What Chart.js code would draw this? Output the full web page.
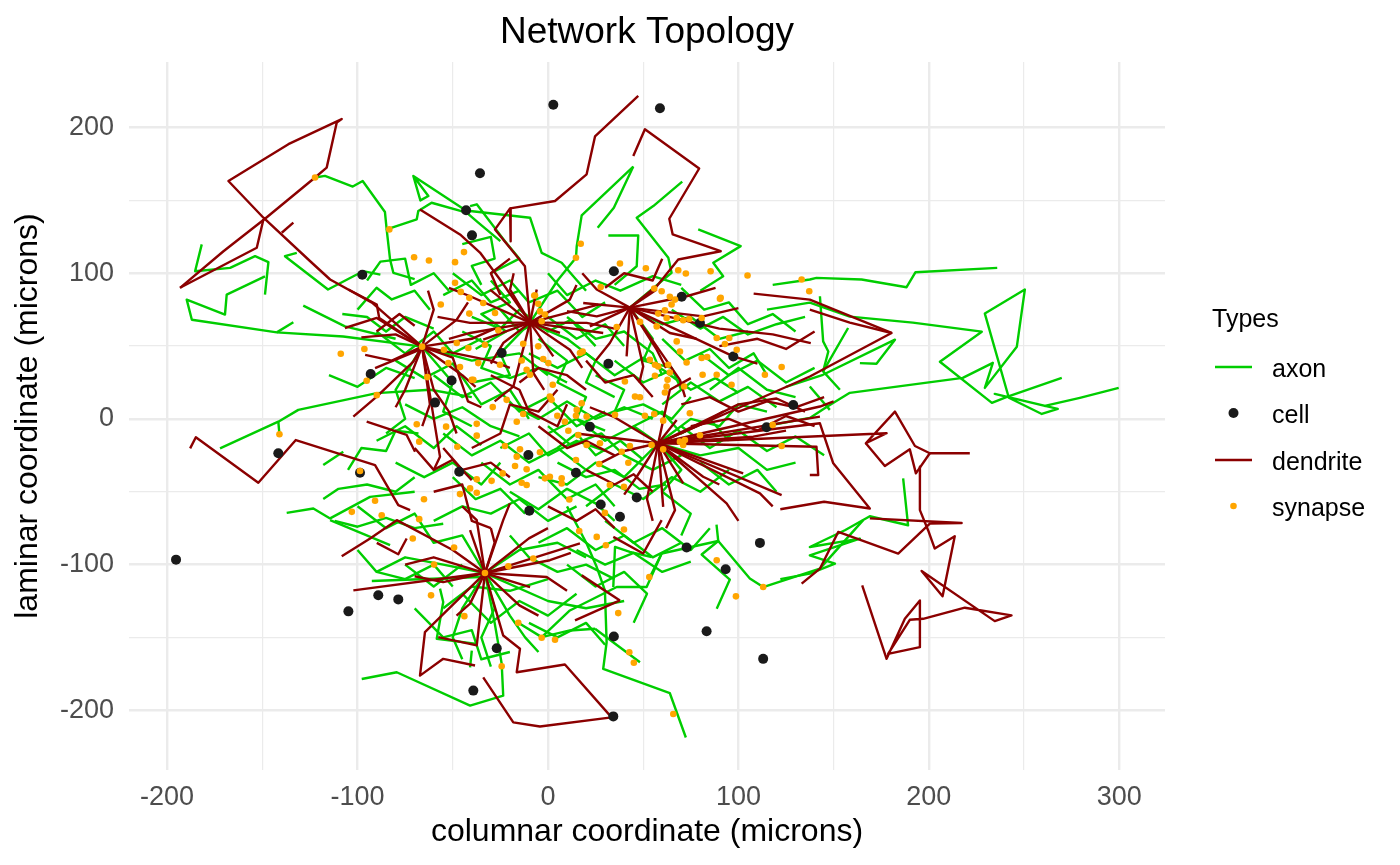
<!DOCTYPE html>
<html>
<head>
<meta charset="utf-8">
<title>Network Topology</title>
<script src="https://cdn.jsdelivr.net/npm/chart.js@4.4.0/dist/chart.umd.min.js"></script>
<style>
  html, body { margin: 0; padding: 0; background: #ffffff; }
  #wrap { width: 1400px; height: 865px; }
</style>
</head>
<body>
<div id="wrap"><canvas id="networkChart" width="1400" height="865"></canvas></div>
<script>
// ---- data (microns) ----
const xTicks = [-200, -150, -100, -50, 0, 50, 100, 150, 200, 250, 300];
const yTicks = [-200, -150, -100, -50, 0, 50, 100, 150, 200];
const typeNames = ["axon", "cell", "dendrite", "synapse"];

const cellX = [2.8, 58.8, -35.7, -43, -39.9, -97.5, 34.6, -93.1, -24.3, 31.7, 70.2, 79.8, 97.3, -141.6, -98.7, -46.6, -50.6, -59.3, -10.3, 14.7, 22, 114.8, 128.8, -195.3, -104.8, -89.1, -78.6, -39.2, -26.9, -9.8, 27.7, 37.8, 46.6, 34.6, 34.3, 72.8, 93.3, 111.3, 83.3, 113];
const cellY = [215.6, 213.3, 168.6, 143.2, 126, 99, 101.4, 30.8, 45.2, 37.9, 83.8, 65.9, 42.9, -23.6, -37, -36.3, 26.4, 11.2, -24.8, -37, -5.3, -5.7, 9.6, -96.6, -132.1, -121.1, -123.9, -186.5, -157.4, -63.1, -58.7, -67.2, -53.9, -149.3, -204.2, -88.3, -103.2, -85.1, -145.7, -164.7];

const synapsesNorthWest = [
  [-122.3, 165.7], [-83.3, 130.1], [-70.3, 111], [-62.5, 108.7], [-48.8, 107.6], [-44.1, 114.5],
  [-48.8, 93.4], [-45.8, 87.2], [-41.3, 83.1], [-56.3, 78.5], [-41.3, 72.3], [-54.6, 47.5],
  [-47.9, 52.1], [-41.8, 48.7], [-52.3, 38.3], [-46.2, 35.6], [-40, 26.8], [-36.6, 38.3],
  [-63.4, 28.7], [-66.1, 49.6], [-108.8, 44.7], [-96.4, 48], [-95.2, 26.2], [-89.9, 16.3],
];
const synapsesSouthWest = [
  [-141, -10.5], [-98.7, -35.8], [-90.8, -56.2], [-87.3, -66.1], [-103, -63.8], [-68.9, -3.7],
  [-67.6, -15.6], [-53.5, -5.3], [-47.6, -19.1], [-65.1, -55.1], [-67.6, -68.8], [-46.2, -51.6],
  [-40.9, -47.7], [-37.4, -41.5], [-37.4, -3.4], [-37.4, -11.5], [-71, -82.1], [-49.3, -88.3],
  [-59.8, -100], [-61.4, -121.1], [-43.9, -135.4], [-33.1, -105.8],
];
const synapsesSouth = [
  [-20.8, -101.2], [-7.7, -95.9], [-15.6, -139.9], [-3.3, -150.2], [3.7, -151.6], [-24.3, -169.8],
  [16.4, -76.9], [25.6, -81], [30.4, -86.7], [39.9, -75.9], [53.2, -108.5], [36.9, -133.3],
  [42.7, -160.2], [45.1, -167.4], [88.6, -97], [98.7, -121.8], [113, -115.4], [65.8, -202.6],
];
const synapsesCentre = [
  [-6.8, 84.7], [-5.1, 79.1], [-34, 79.6], [-27.8, 72.7], [-4.2, 73.8], [-1.6, 71.6], [-3.3, 67],
  [-26.1, 60.8], [-13, 51.6], [-5.1, 49.8], [-33.1, 50.9], [-25.2, 37.2], [-13.8, 40.1], [-2.5, 41.1],
  [0.2, 38.3], [-11.2, 33.7], [-9.4, 30.3], [-39.2, 26.8], [2.5, 23.4], [1, 15.3], [1.9, 13.1],
  [-21.7, 13.1], [-29, 8.1], [-13, 3.4], [-16.4, -1.9], [-22.6, -18.6], [-14.7, -20.9], [-16.4, -25.9],
  [-17.3, -32.3], [-11.2, -34.6], [-23.8, -37.4], [-29.6, -42.5], [-13.8, -43.8], [-11.2, -45.4],
  [-37.4, -50.7], [-4.2, -22.9], [4.9, 2.1], [8.9, -1.9], [10.7, -8.1], [15.1, 6.2], [15.9, -11],
  [20.3, 1.6], [17.7, 10.8], [14.7, 2.1], [20.3, -17.9], [27.3, -16.7], [35.2, 2.8], [43, -18.6],
  [38.7, -22.5], [42.2, -30.1], [14.7, -28.2], [26.9, -31], [32.5, -45.4], [39.9, -46.6], [11.2, -55.3],
  [-1.6, -40.8], [1, -39.7], [7.2, -40.8], [7.2, -44.3], [29.9, -64.5], [-7.2, 84.7],
];
const synapsesEast = [
  [16.8, 45.2], [18.2, 46.3], [36.1, 63.1], [48.3, 66.6], [57.1, 63.5], [53.5, 40.6], [56.2, 37.2],
  [57.9, 36], [63.1, 37.2], [64, 31.9], [62.8, 26.8], [62.3, 22.2], [61.4, 18.1], [56.2, 29.6],
  [45.7, 15.3], [48.3, 14.9], [50.9, 2.1], [55.8, 3.4], [60.5, -1.2], [54.4, -17.9], [60.5, -20.9],
  [69.3, -15.6], [71.9, -14.5], [71, -17.9], [79.8, -11.2], [74.5, 3.9], [71.5, 22.2], [81.2, 30.3],
  [88.6, 30.3], [96.4, 23.4], [113.9, 30.3], [122.7, 35.6], [118, -4.1], [122.7, -18.6], [72.8, 38.7],
  [80.7, 41.8], [83.6, 42.5], [88.6, 55.5], [92.9, 51.4], [95.2, 55.5], [99.1, 47.5], [67.6, 53.2],
  [69.3, 46.3], [57.9, 72.3], [61.4, 74.5], [64.9, 78.5], [66.7, 81.9], [64, 83.8], [59.7, 87.6],
  [62.3, 69.3], [67.6, 69.3], [71, 67.7], [74.2, 68.6], [80.7, 69.3], [90.3, 82.4], [137.2, 87.6],
  [40.4, 25.7], [17.2, 120.2], [14.7, 110.6], [37.8, 106.7], [51.4, 103.4], [68.4, 102.1], [72.4, 99.8],
  [85.4, 101.4], [104.8, 98.4], [133.2, 95.7], [27.7, 90.6], [55.8, 89.5], [90.7, 83.1],
];

// each path is a flat list x0, y0, x1, y1, ...
const dendritesWest = [
  [-66.1, 49.6, -92.4, 79.8, -114.4, 95.7, -124, 107.2, -149.4, 138.1, -167.8, 163.3, -136.3, 188.6, -108.3, 205.8, -110.9, 203.5, -116.2, 172.5, -122.3, 165.7, -148.6, 137.4, -170.4, 115.1, -193.2, 90],
  [-193.2, 90, -152.9, 117.5, -149.4, 137],
  [-139.8, 127.8, -133.7, 134.7],
  [-66.1, 49.6, -88.6, 69.3, -89.9, 78.5, -104.8, 88.8],
  [-66.1, 49.6, -89.9, 69.3, -106.6, 62.4],
  [-66.1, 49.6, -70.7, 39.4, -89.9, 15.3, -102.2, 1.6],
  [-67.2, 47.5, -90.8, 34.9],
  [-95.2, -1.9, -74.2, -11, -69.8, -22.5],
  [-187.9, -20.2, -184.9, -12.6, -152.1, -43.8, -132.4, -14.5, -90.8, -31.7, -78.6, -59.2, -72.4, -62.6],
  [-66.1, 49.6, -56.7, -25.9, -60, -35],
  [-66.1, 49.6, -60, 20, -52, 5, -48, -10],
  [-66.1, 49.6, -45, 30, -38, 22],
  [-66.1, 49.6, -40, 55, -28, 62],
  [-66.1, 49.6, -48, 68, -42, 80],
  [-66.1, 49.6, -60, 75, -63, 88],
  [-66.1, 49.6, -80, 58, -98, 56],
  [-66.1, 49.6, -82, 40, -96, 44],
  [-66.1, 49.6, -75, 20, -80, 8],
  [-66.1, 49.6, -62, 10, -66, -5],
  [-66.1, 49.6, -30, 40, -20, 35],
  [-66.1, 49.6, -50, 42, -42, 12, -35, 8],
  [-90, 60, -78, 72, -70, 64],
  [-70, -20, -60, -35, -50, -28, -40, -42],
];
const dendritesNorth = [
  [-9.4, 66.1, -12.1, 104.8, -27.8, 130.1, -19.9, 144.5, 3.7, 149.6, 20.3, 167.9, 24.7, 193.9, 47.4, 221.8],
  [-19.9, 144.5, -19.6, 122],
  [43, 76.4, 57.1, 91.1, 68.4, 109.4, 90.7, 115.1, 65.5, 126.6, 63.7, 137.4, 79.4, 171.9, 50.9, 198.9, 44.8, 180.5],
  [-67.2, 143.8, -46.2, 126.6, -35.7, 114.2, -25.2, 95.7, -9.4, 66.1],
  [-9.4, 66.1, -40.9, 84.2, -52, 90],
  [-9.4, 66.1, -40.9, 65.9, -58, 70],
  [-9.4, 66.1, -30.4, 88.8],
  [-9.4, 66.1, -19.9, 88.8, -18, 100],
  [-9.4, 66.1, -5.9, 88.8],
  [-9.4, 66.1, 11.5, 81.9, 15, 92],
  [-9.4, 66.1, 26.4, 78.5],
  [-9.4, 66.1, 20.3, 65.9, 35, 62],
  [-9.4, 66.1, 6.3, 59],
  [-9.4, 66.1, 29, 59],
  [-9.4, 66.1, 11.5, 47.5, 18, 35],
  [-9.4, 66.1, 2.8, 42.9],
  [-9.4, 66.1, -7.7, 31.5, -2, 20],
  [-9.4, 66.1, -18.2, 22.2, -28, 12],
  [-9.4, 66.1, -23.5, 52.1, -30, 38],
  [-9.4, 66.1, -34, 54.4],
  [-9.4, 66.1, -40.9, 59, -52, 55],
  [43, 76.4, 25.6, 88.8, 18, 100],
  [43, 76.4, 57.1, 88.8],
  [43, 76.4, 72.8, 84.2, 88, 90],
  [43, 76.4, 81.5, 70.4, 100, 76],
  [43, 76.4, 64, 59, 78, 55],
  [43, 76.4, 57.1, 47.5, 62, 35],
  [43, 76.4, 50, 36, 48, 25],
  [43, 76.4, 41.3, 42.9],
  [43, 76.4, 32.5, 52.1, 25, 40],
  [43, 76.4, 22, 63.5],
  [43, 76.4, 25.6, 70.4, 10, 74],
  [43, 76.4, 18.5, 79.6],
  [43, 76.4, 97.3, 42.9, 110, 38],
  [43, 76.4, 69.3, 26.8, 72, 15],
  [43, 76.4, 90, 62, 118, 58, 138, 52],
  [30, 90, 40, 100, 55, 95, 60, 110],
  [-20, 110, -30, 100, -25, 85],
  [-30, 30, -15, 20, -10, 5, 5, -5, 10, 10],
  [20, 40, 30, 25, 45, 30, 55, 15],
  [90, 50, 110, 55, 125, 48, 140, 60],
  [-15, 25, -5, 35, 10, 30, 20, 20],
];
const dendritesEast = [
  [57.9, -16.7, 137.5, 29.1, 180.4, 59, 137.5, 81.9, 108, 86],
  [137.5, 75, 158.5, 66.1, 180.4, 59],
  [57.9, -16.7, 141, -19.1, 141.9, -38.5, 137.5, -38.5],
  [57.9, -16.7, 177.8, -9.8, 166.9, -16.7, 182.2, 5, 192.7, -18.6, 200.5, -23.6, 221.5, -23.6],
  [166.9, -16.7, 176.9, -32.3, 190, -20.9, 193.2, -37.4, 200.5, -23.6],
  [195.3, -32.8, 195.3, -62.6, 199.6, -76.4, 203.1, -89, 213.6, -80.5, 207.2, -121.8, 196.2, -104.4, 234.6, -138.8, 243.4, -134.9, 218.9, -129.6, 197, -137.2, 190, -137.9, 178.6, -161.3, 195.3, -156.7, 195.3, -124.6, 187.4, -137.2, 177.8, -164.7, 165, -114.2],
  [57.9, -16.7, 142.8, -3, 149.8, -30.5, 169, -61.5, 145, -56.9, 122, -62],
  [133.2, -113.1, 142.8, -102.8, 152.4, -77.6, 183.9, -92.4, 200.5, -71.8, 217.2, -71.4, 169, -68.3],
  [57.9, -16.7, 34.3, 1.6, 22, 8],
  [57.9, -16.7, 29, -12.2, 15, -10],
  [57.9, -16.7, 46.6, -39.7, 40, -52],
  [57.9, -16.7, 60.5, -60.4],
  [57.9, -16.7, 66.7, -62.6, 62, -75],
  [57.9, -16.7, 71, -44.3],
  [57.9, -16.7, 81.5, -39.7, 90, -45],
  [57.9, -16.7, 93.8, -58, 100, -70],
  [57.9, -16.7, 102.5, -37.4],
  [57.9, -16.7, 111.3, -51.1, 118, -60],
  [57.9, -16.7, 122.7, -52.3],
  [57.9, -16.7, 107.8, -12.2, 125, -8],
  [57.9, -16.7, 81.5, -3, 92, 5],
  [57.9, -16.7, 67.6, -0.7],
  [57.9, -16.7, 64, 20, 75, 28],
  [57.9, -16.7, 142.8, 1.6],
  [57.9, -16.7, 142.8, 8.5, 150, 12],
  [57.9, -16.7, 100, 10, 120, 14, 135, 5],
  [57.9, -16.7, 40, -22, 28, -30],
  [57.9, -16.7, 52, -55, 55, -70],
  [70, 10, 85, 15, 100, 5, 115, 12, 130, 8, 145, 15],
  [75, -5, 95, 0, 110, -8, 125, 2, 140, -5],
  [20, -35, 35, -45, 45, -38, 55, -50],
];
const dendritesSouth = [
  [-33.1, -105.8, -23.5, -148.7, -14.7, -157.8, -16.4, -173.9, 8.9, -168.6, 33.4, -204.9, -4.2, -211.1, -18.2, -208.3, -34, -177.4],
  [-33.1, -105.8, -64.6, -146.4, -67.2, -176.2, -55, -164.7, -38.3, -169.3],
  [-33.1, -105.8, -37.4, -155.5, -57.6, -149.8],
  [-33.1, -105.8, -102.2, -117.7],
  [-33.1, -105.8, -50, -90, -79.4, -69.5, -93.4, -82.1, -108.3, -94.3],
  [-89.9, -85.1, -78.6, -92.9, -74.2, -82.1],
  [14.2, -138.3, 37.8, -124.6],
  [17.7, -107.4, 37.8, -124.6],
  [34.3, -81, 50, -92.4, 59.7, -69.5],
  [-33.1, -105.8, -40.9, -76.4],
  [-33.1, -105.8, -37.4, -69.5, -45, -60],
  [-33.1, -105.8, -23.5, -69.5, -20, -58],
  [-33.1, -105.8, 1, -97, 12, -92],
  [-33.1, -105.8, 16.8, -85.5],
  [-33.1, -105.8, -9.4, -115.4],
  [-33.1, -105.8, -0.7, -108.5, 10, -118],
  [-33.1, -105.8, -40.9, -126.8, -48, -135],
  [-33.1, -105.8, -60, -95, -75, -100],
  [-33.1, -105.8, -55, -112, -70, -108],
  [-33.1, -105.8, -10, -82, 0, -75],
  [-33.1, -105.8, -28, -85, -30, -75],
  [-33.1, -105.8, -15, -128, -5, -135],
  [-40, -20, -25, -10, -20, 10, -5, 5, 5, 20],
  [-5, -5, 10, -20, 20, -15, 35, -25],
  [-60, -50, -45, -45, -40, -70, -30, -75],
  [-55, -20, -45, -35, -30, -30, -20, -40],
  [0, -60, 15, -70, 25, -62, 35, -75],
];

const axonsWest = [
  [-66.1, 49.6, -107.5, 56.6, -142.4, 59.4, -187, 68.1, -189.7, 81.9, -169.6, 71.6, -168.7, 85.3, -148.6, 97.9],
  [-148.6, 85.3, -146.8, 107.6, -153.8, 111.7, -166.9, 103.7, -185.3, 101.4, -181.8, 119.8],
  [-133.7, 66.3, -142.4, 59.4],
  [-128.5, 77.8, -106.6, 63.5, -80, 55],
  [-122.3, 165.7, -117.1, 166.8, -102.5, 159.5, -97.3, 163.3, -85.6, 142, -84.7, 130.1, -68.9, 137, -68.1, 142.7, -61.1, 148.4, -42.7, 141.6, -36.6, 134.7, -25, 122],
  [-84.7, 130.1, -82.9, 109.4, -81.2, 100.3, -70, 96],
  [-70.7, 166.8, -62.8, 153, -67, 150, -70.7, 166.8, -42.7, 142.7],
  [-131.9, 114, -138.1, 111.7, -115.5, 88.8, -97.1, 101.4, -88, 99],
  [-172.2, -20.2, -141.6, -1.9, -131.1, 6.2, -89.9, 17.7, -61.9, 20, -40, 15],
  [-141.6, -1.9, -141, -10.5],
  [-137.2, -64.5, -123.2, -61.5, -114.4, -68.3, -93.4, -53.5, -70, -50],
  [-118, -31.7, -107.5, -22.5],
  [-118, -55, -110, -48, -95, -45, -80, -50, -70, -40],
  [-112, -70, -100, -74, -85, -68, -70, -75, -55, -72],
  [-105, -35, -98, -20, -85, -22, -80, -8, -68, -10],
  [-95, 95, -88, 108, -75, 110, -72, 92, -60, 100, -52, 88],
  [-100, 75, -90, 90, -82, 82, -70, 88, -62, 75],
  [-108, 72, -95, 70, -85, 60, -75, 70, -60, 62],
  [-114.4, -69.5, -82.9, -86.7],
  [-115, 30, -100, 22, -85, 35, -70, 28],
  [-100, -90, -90, -105, -75, -110, -60, -100, -50, -115],
  [-90, 60, -75, 45, -60, 60, -50, 45, -35, 55],
  [-80, -30, -65, -40, -50, -30, -35, -45, -25, -30],
  [-75, 10, -60, 0, -45, 8, -30, -5, -15, -12],
  [-55, 85, -40, 95, -30, 80, -15, 88],
];
const axonsNorth = [
  [44.8, 173.2, 17.7, 139.7, 15.1, 118.6, 14.7, 110.6, 5, 95, -9.4, 66.1],
  [44.8, 173.2, 34.6, 145, 26.1, 131.2],
  [70.5, 162.9, 55.3, 146.1, 46.6, 138.1, 63.2, 110.6, 64.9, 100.3, 43, 76.4],
  [78.9, 130.1, 101.2, 118.6, 86.8, 107.2, 92, 97.9, 80, 88],
  [31.7, 125.9, 47.4, 125.9, 46.6, 104.8, 35, 92],
  [-40.9, 142.7, -9.4, 138.1, -3.3, 114, 7.2, 107.2, 13.3, 97.9, 20, 88],
  [-40.9, 146.1, -37.4, 147.3, -22.6, 122, -15, 110, -30, 100],
  [-45, 120, -30, 125, -28, 110, -40, 105, -35, 92],
  [0, 100, 10, 85, 25, 95, 38, 88, 55, 98, 70, 92],
  [-30, 95, -20, 80, -35, 72, -22, 60, -38, 48],
  [-50, 100, -35, 85, -20, 95, -10, 80, 5, 88, 18, 70, 30, 80],
  [-25, 75, -15, 60, 0, 70, 15, 55, 30, 65, 40, 50],
  [70, 90, 82, 75, 95, 80, 105, 65, 118, 72, 130, 60],
  [10, 70, 25, 55, 40, 60, 55, 45, 60, 30],
  [-40, 70, -25, 62, -15, 75, 0, 60, 12, 68, 25, 50],
  [65, 75, 80, 62, 92, 70, 105, 58, 120, 65, 135, 70],
];
const axonsEast = [
  [115, 75, 137.5, 79.8, 158.5, 70.2, 191.6, 66.1, 227.8, 59.9, 205.8, 39.2, 233.1, 11, 241, 15.1, 269.8, 28.2],
  [299.7, 21.3, 279.3, 14.5, 260.9, 8.9, 234.6, 17.2, 267.7, 6.9, 259.3, 3.4, 242, 14.5, 229.4, 72.3, 250.4, 88.8, 246.2, 49.6, 229.4, 21.3, 233.6, 38.5, 217.8, 28.2, 158.5, 17.9, 146.5, 8.3, 137.5, 0.7, 118, -4],
  [118, 92, 137.5, 95.7, 141, 96.8, 164.7, 95.7, 188.3, 90.4, 193, 100.7, 235.9, 103.7],
  [163.8, 38.3, 172.5, 37.9, 182.2, 54.4, 144.4, 30.3, 125, 22],
  [157.6, 62.4, 144.5, 32.6, 153.3, 20],
  [142.8, 84.2, 144.5, 53.2, 147.2, 46.3, 144.5, 32.6],
  [137.5, 22.2, 148, 6.2],
  [186.5, -40.8, 189.1, -73, 169, -66.8, 155.9, -76.4, 137.5, -87.9, 163.8, -82.2, 137.5, -93.6, 150.7, -99.3, 137.5, -106.2, 122, -110],
  [53.5, -108.5, 59.7, -92.4, 89.4, -83.8, 106, -109.6, 113, -115.4, 142.8, -102.8, 165.5, -69.5],
  [88.6, -130.3, 95.5, -110.3, 80.7, -93.1, 89.4, -83.8, 88.5, -72.6],
  [60, 10, 75, 25, 90, 12, 105, 22, 120, 8],
  [80, 45, 95, 30, 110, 40, 125, 25, 140, 35],
  [70, -5, 85, -20, 100, -8, 115, -22, 130, -12, 145, -25],
  [43, 76.4, 60, 65, 75, 70, 90, 55, 105, 60],
  [43, 76.4, 55, 55, 50, 40, 65, 35, 70, 20],
  [57.9, -16.7, 80, -25, 100, -20, 115, -35, 130, -30],
  [57.9, -16.7, 75, 0, 90, -5, 100, 10, 115, 5],
  [60, 55, 72, 40, 85, 48, 95, 35, 108, 45, 115, 30],
  [80, -30, 95, -45, 110, -35, 120, -50],
  [85, 20, 100, 35, 115, 20, 130, 15],
  [45, -5, 60, 5, 70, -10, 85, 0, 95, -15],
  [35, 40, 50, 25, 62, 32, 75, 20, 88, 28, 100, 18],
];
const axonsSouth = [
  [-97.8, -178.5, -79.4, -173.9, -40.9, -196.8, -23.5, -190, -24.3, -168.1, -28, -140, -33.1, -105.8],
  [-92.5, -111.3, -35.7, -108.5, -33.1, -105.8],
  [-56.7, -116.5, -55, -125.7, -58.4, -150.9, -37.4, -154.4],
  [-40.9, -170.5, -40, -159],
  [72.4, -218.7, 64, -188.3, 29, -171.6, 30.8, -153.3, 29.9, -117.7, 25.6, -101.7, 20.3, -85.5, 10, -60],
  [24.7, -144, 48.3, -167],
  [24.7, -144, 11.5, -145.2, -3.3, -149.8, -15.6, -139.9],
  [34.3, -115.4, 35.2, -87.9, 43, -91.3, 54.4, -94.8],
  [-3.3, -149.8, 11.5, -131.5, 36.1, -115.4, 51.8, -115.4, 59.7, -92.4],
  [20, -60, 35, -45, 50, -55, 65, -40, 80, -50, 95, -35],
  [-20, -50, -5, -62, 10, -48, 25, -58, 35, -70],
  [-5, -85, 10, -75, 25, -90, 40, -80, 55, -95, 70, -85],
  [-45, -120, -30, -140, -15, -125, 0, -135, 15, -120],
  [-70, -130, -55, -150, -40, -145, -35, -165, -20, -160],
  [10, -100, 25, -115, 40, -105, 52, -120, 45, -140],
  [-100, -60, -85, -75, -70, -65, -60, -85, -45, -80, -33.1, -105.8],
  [-33.1, -105.8, -28, -130, -35, -150, -30, -170],
  [-33.1, -105.8, -20, -135, -12, -150, -5, -160],
  [-33.1, -105.8, -45, -130, -50, -150, -45, -165],
  [-33.1, -105.8, 0, -125, 20, -130, 40, -125],
  [-33.1, -105.8, -15, -90, 5, -85, 20, -95],
  [-33.1, -105.8, -55, -100, -75, -95, -90, -105],
  [57.9, -16.7, 70, -35, 60, -50, 75, -65, 70, -80],
  [-35, -30, -20, -45, -5, -35, 10, -55, 25, -45, 35, -60],
  [-60, -70, -45, -60, -30, -65, -15, -55, 0, -70, 15, -60],
  [30, -70, 45, -85, 60, -75, 75, -90, 85, -75],
  [-20, -80, -10, -95, 5, -105, 20, -100, 35, -110],
  [-55, -130, -40, -115, -20, -118, 0, -110],
  [-10, -140, 5, -150, 20, -140, 30, -155],
  [-75, -100, -60, -115, -45, -100],
  [-50, -40, -38, -55, -25, -48, -12, -65],
  [15, -90, 30, -100, 45, -92, 60, -105, 75, -98],
];
const axonsCentre = [
  [-60, 30, -45, 15, -30, 25, -15, 5, 0, 15, 15, -5, 30, 5],
  [-80, 40, -65, 28, -50, 38, -35, 10, -20, 20, -10, 0],
  [-55, -10, -40, -25, -25, -15, -10, -30, 5, -20, 20, -35],
  [-90, -15, -75, -5, -60, -20, -48, -5, -35, -18],
  [-10, 45, 5, 35, 20, 45, 35, 30, 50, 42, 65, 30],
  [-66.1, 49.6, -40, 40, -15, 45, 0, 30],
  [-66.1, 49.6, -50, 25, -55, 5, -40, -5],
  [-66.1, 49.6, -80, 20, -75, 0, -85, -10],
  [-9.4, 66.1, 10, 55, 25, 40, 20, 25, 35, 15],
  [-9.4, 66.1, -25, 45, -20, 30, -40, 25],
  [57.9, -16.7, 45, -5, 30, -15, 15, 0, 0, -10],
  [57.9, -16.7, 40, -40, 25, -30, 10, -45, -5, -40],
  [5, -20, 15, -10, 25, -25, 38, -15, 50, -28],
  [-20, 10, -5, 0, 10, 12, 25, 0, 40, 8, 55, 0],
  [-45, 60, -30, 50, -35, 35, -20, 28, -5, 35, 10, 25],
  [-5, 55, 10, 40, 5, 25, 20, 15, 15, 0, 30, -8],
  [25, 30, 40, 20, 35, 5, 50, 10, 65, 0, 75, 15],
  [0, -5, 12, -18, 28, -10, 40, -25, 55, -35, 70, -25],
  [5, -30, 20, -40, 35, -35, 48, -48, 62, -45],
  [-25, -20, -10, -10, 0, -25, 15, -15, 30, -22],
];

// ---- chart ----
const COLORS = { axon: "#00CD00", cell: "#1A1A1A", dendrite: "#8B0000", synapse: "#FFA500" };
const FONT = '"Liberation Sans", Arial, Helvetica, sans-serif';

function toPoints(flat) {
  const pts = [];
  for (let i = 0; i < flat.length; i += 2) pts.push({ x: flat[i], y: flat[i + 1] });
  return pts;
}

function pathDataset(flat, color, order) {
  return {
    data: toPoints(flat),
    showLine: true,
    borderColor: color,
    borderWidth: 2.4,
    borderJoinStyle: "round",
    pointRadius: 0,
    pointHoverRadius: 0,
    fill: false,
    tension: 0,
    order: order,
  };
}

const datasets = [];
[axonsWest, axonsNorth, axonsEast, axonsSouth, axonsCentre].forEach((group) =>
  group.forEach((p) => datasets.push(pathDataset(p, COLORS.axon, 3))),
);
[dendritesWest, dendritesNorth, dendritesEast, dendritesSouth].forEach((group) =>
  group.forEach((p) => datasets.push(pathDataset(p, COLORS.dendrite, 2))),
);
datasets.push({
  data: cellX.map((x, i) => ({ x: x, y: cellY[i] })),
  pointRadius: 5,
  pointBackgroundColor: COLORS.cell,
  pointBorderWidth: 0,
  order: 1,
});
const allSynapses = [].concat(synapsesNorthWest, synapsesSouthWest, synapsesSouth, synapsesCentre, synapsesEast);
datasets.push({
  data: allSynapses.map((p) => ({ x: p[0], y: p[1] })),
  pointRadius: 3.3,
  pointBackgroundColor: COLORS.synapse,
  pointBorderWidth: 0,
  order: 0,
});

// title over the panel and legend on the right, drawn like the ggplot guide
const panelDecor = {
  id: "panelDecor",
  afterDraw(chart) {
    const ctx = chart.ctx;
    const area = chart.chartArea;
    ctx.save();
    ctx.fillStyle = "#000000";
    ctx.textBaseline = "alphabetic";
    ctx.textAlign = "center";
    ctx.font = "37px " + FONT;
    ctx.fillText("Network Topology", (area.left + area.right) / 2, 43);

    ctx.textAlign = "left";
    ctx.font = "25px " + FONT;
    ctx.fillText("Types", 1212, 327);
    const rows = [367, 413, 460, 506];
    typeNames.forEach((name, i) => {
      const y = rows[i];
      if (name === "axon" || name === "dendrite") {
        ctx.strokeStyle = COLORS[name];
        ctx.lineWidth = 2.5;
        ctx.beginPath();
        ctx.moveTo(1215, y);
        ctx.lineTo(1252, y);
        ctx.stroke();
      } else {
        ctx.fillStyle = COLORS[name];
        ctx.beginPath();
        ctx.arc(1233.5, y, name === "cell" ? 5 : 3.3, 0, Math.PI * 2);
        ctx.fill();
      }
      ctx.fillStyle = "#000000";
      ctx.fillText(name, 1272, y + 10);
    });
    ctx.restore();
  },
};

const gridWidth = (c) => (c.tick && c.tick.value % 100 === 0 ? 2.4 : 1.2);
const tickLabel = (v) => (v % 100 === 0 ? String(v) : "");

new Chart(document.getElementById("networkChart"), {
  type: "scatter",
  data: { datasets: datasets },
  plugins: [panelDecor],
  options: {
    responsive: false,
    animation: false,
    events: [],
    layout: { padding: { left: 0, right: 235, top: 62, bottom: 0 } },
    scales: {
      x: {
        type: "linear",
        min: -220,
        max: 324,
        afterBuildTicks: (scale) => { scale.ticks = xTicks.map((v) => ({ value: v })); },
        afterFit: (scale) => { scale.height = 95; },
        border: { display: false },
        grid: { color: "#EBEBEB", lineWidth: gridWidth, drawTicks: false },
        ticks: {
          callback: tickLabel,
          autoSkip: false,
          maxRotation: 0,
          padding: 11,
          color: "#4D4D4D",
          font: { family: FONT, size: 27 },
        },
        title: {
          display: true,
          text: "columnar coordinate (microns)",
          color: "#000000",
          font: { family: FONT, size: 32 },
          padding: { top: 0, bottom: 14 },
        },
      },
      y: {
        type: "linear",
        min: -241,
        max: 245,
        afterBuildTicks: (scale) => { scale.ticks = yTicks.map((v) => ({ value: v })); },
        afterFit: (scale) => { scale.width = 129; },
        border: { display: false },
        grid: { color: "#EBEBEB", lineWidth: gridWidth, drawTicks: false },
        ticks: {
          callback: tickLabel,
          autoSkip: false,
          padding: 15,
          color: "#4D4D4D",
          font: { family: FONT, size: 27 },
        },
        title: {
          display: true,
          text: "laminar coordinate (microns)",
          color: "#000000",
          font: { family: FONT, size: 32 },
          padding: { top: 9, bottom: 0 },
        },
      },
    },
    plugins: {
      legend: { display: false },
      tooltip: { enabled: false },
      title: { display: false },
    },
  },
});
</script>
</body>
</html>
